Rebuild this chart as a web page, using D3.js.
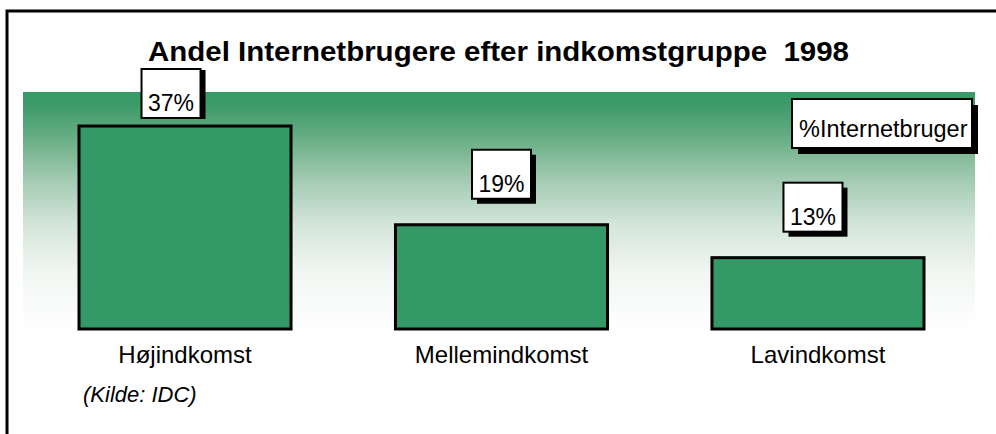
<!DOCTYPE html>
<html>
<head>
<meta charset="utf-8">
<script src="https://cdn.jsdelivr.net/npm/d3@7/dist/d3.min.js"></script>
<style>
  html, body { margin: 0; padding: 0; background: #fff; }
  svg { display: block; }
  text { font-family: "Liberation Sans", Arial, Helvetica, sans-serif; white-space: pre; }
</style>
</head>
<body>
<svg id="chart" width="996" height="434"></svg>
<script>
// ---- data ----
const categories = ["Højindkomst", "Mellemindkomst", "Lavindkomst"];
const values = [37, 19, 13];
const valueLabels = ["37%", "19%", "13%"];
const seriesName = "%Internetbruger";
const titleText = "Andel Internetbrugere efter indkomstgruppe  1998";
const sourceText = "(Kilde: IDC)";

// ---- layout ----
const W = 996, H = 434;
const svg = d3.select("#chart");
const green = "#339966";

const x = d3.scaleBand().domain(categories).range([79, 924]).paddingInner(0.33).paddingOuter(0);
const y = d3.scaleLinear().domain([0, 37]).range([329, 126]);

// frame (left + top lines)
svg.append("path")
  .attr("d", `M7,${H} L7,11 L${W},11`)
  .attr("fill", "none").attr("stroke", "#000").attr("stroke-width", 3);

// gradient plot background
const defs = svg.append("defs");
const grad = defs.append("linearGradient").attr("id", "bg").attr("x1", 0).attr("y1", 0).attr("x2", 0).attr("y2", 1);
[[0, "#379a67"], [0.06, "#3f9b6b"], [0.2, "#6aaf87"], [0.35, "#9ec8ae"], [0.55, "#d3e5d9"], [0.75, "#f1f6f2"], [1, "#ffffff"]]
  .forEach(([o, c]) => grad.append("stop").attr("offset", o).attr("stop-color", c));
svg.append("rect").attr("x", 23).attr("y", 92).attr("width", 952).attr("height", 240).attr("fill", "url(#bg)");

// title
svg.append("text").attr("x", 148).attr("y", 61)
  .attr("font-size", 27).attr("font-weight", "bold").attr("fill", "#000")
  .attr("textLength", 701).attr("lengthAdjust", "spacingAndGlyphs")
  .text(titleText);

// bars
svg.selectAll("rect.bar").data(values).join("rect").attr("class", "bar")
  .attr("x", (d, i) => x(categories[i]))
  .attr("y", d => y(d))
  .attr("width", x.bandwidth())
  .attr("height", d => y(0) - y(d))
  .attr("fill", green).attr("stroke", "#000").attr("stroke-width", 3);

// value label boxes
const boxW = 59, boxH = 49, sh = 5;
const lbl = svg.selectAll("g.vl").data(values).join("g").attr("class", "vl")
  .attr("transform", (d, i) => {
    const cx = x(categories[i]) + x.bandwidth() / 2 - (i === 0 ? 14 : 0) - (i === 2 ? 5 : 0);
    const top = Math.max(y(d) - 26 - boxH, 69);
    return `translate(${cx - boxW / 2},${top})`;
  });
lbl.append("rect").attr("x", sh).attr("y", (d, i) => i === 0 ? 1 : sh).attr("width", boxW).attr("height", boxH).attr("fill", "#000");
lbl.append("rect").attr("width", boxW).attr("height", boxH).attr("fill", "#fff").attr("stroke", "#000").attr("stroke-width", 2);
lbl.append("text").attr("x", boxW / 2).attr("y", boxH - 7).attr("text-anchor", "middle")
  .attr("font-size", 23).attr("fill", "#000").text((d, i) => valueLabels[i]);

// category labels
svg.selectAll("text.cat").data(categories).join("text").attr("class", "cat")
  .attr("x", d => x(d) + x.bandwidth() / 2).attr("y", 363).attr("text-anchor", "middle")
  .attr("font-size", 24).attr("fill", "#000").text(d => d);

// legend box
const lg = svg.append("g").attr("transform", "translate(792,99)");
lg.append("rect").attr("x", 6).attr("y", 6).attr("width", 180).attr("height", 49).attr("fill", "#000");
lg.append("rect").attr("width", 180).attr("height", 49).attr("fill", "#fff").attr("stroke", "#000").attr("stroke-width", 2);
lg.append("text").attr("x", 7).attr("y", 38).attr("font-size", 23.5).attr("fill", "#000").text(seriesName);

// source
svg.append("text").attr("x", 83).attr("y", 402).attr("font-size", 22).attr("font-style", "italic")
  .attr("fill", "#000").text(sourceText);
</script>
</body>
</html>
